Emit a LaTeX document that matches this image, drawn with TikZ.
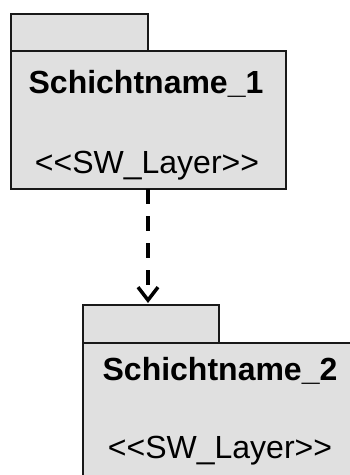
\documentclass[tikz,border=0pt]{standalone}
\usepackage{fontspec}
\setmainfont{Liberation Sans}[Ligatures=TeXOff]
\usetikzlibrary{arrows.meta}
\definecolor{pkgfill}{RGB}{224,224,224}
\definecolor{pkgline}{RGB}{25,25,25}
\begin{document}
\begin{tikzpicture}[x=1pt,y=-1pt,
  pkgbox/.style={draw=pkgline,fill=pkgfill,line width=1.6pt,rectangle,inner sep=0pt,anchor=north west},
  pkgname/.style={anchor=base,inner sep=0pt,font=\fontsize{32}{36}\selectfont\bfseries},
  pkgstereo/.style={anchor=base,inner sep=0pt,font=\fontsize{32}{36}\selectfont},
  depend/.style={line width=4pt,dash pattern=on 15pt off 12pt,
    -{Straight Barb[length=13pt,width=20pt,line width=3.5pt]}}]
\useasboundingbox (0,0) rectangle (350,475);
\clip (0,0) rectangle (350,475);
% upper layer package
\node[pkgbox,minimum width=137pt,minimum height=37pt] (tab1) at (10,13) {};
\node[pkgbox,minimum width=275pt,minimum height=138pt] (body1) at (10,50) {};
\node[pkgname] (name1) at (146,93) {Schichtname\_1};
\node[pkgstereo] (st1) at (147,173) {<<SW\_Layer>>};
% lower layer package (runs past the right and bottom edges)
\node[pkgbox,minimum width=136pt,minimum height=38pt] (tab2) at (82,304) {};
\node[pkgbox,minimum width=280pt,minimum height=150pt] (body2) at (82,342) {};
\node[pkgname] (name2) at (220,380) {Schichtname\_2};
\node[pkgstereo] (st2) at (220,458) {<<SW\_Layer>>};
% dependency between the layers
\coordinate (src) at (148,189);
\coordinate (dst) at (148,303);
\draw[depend] (src) -- (dst);
\end{tikzpicture}
\end{document}
